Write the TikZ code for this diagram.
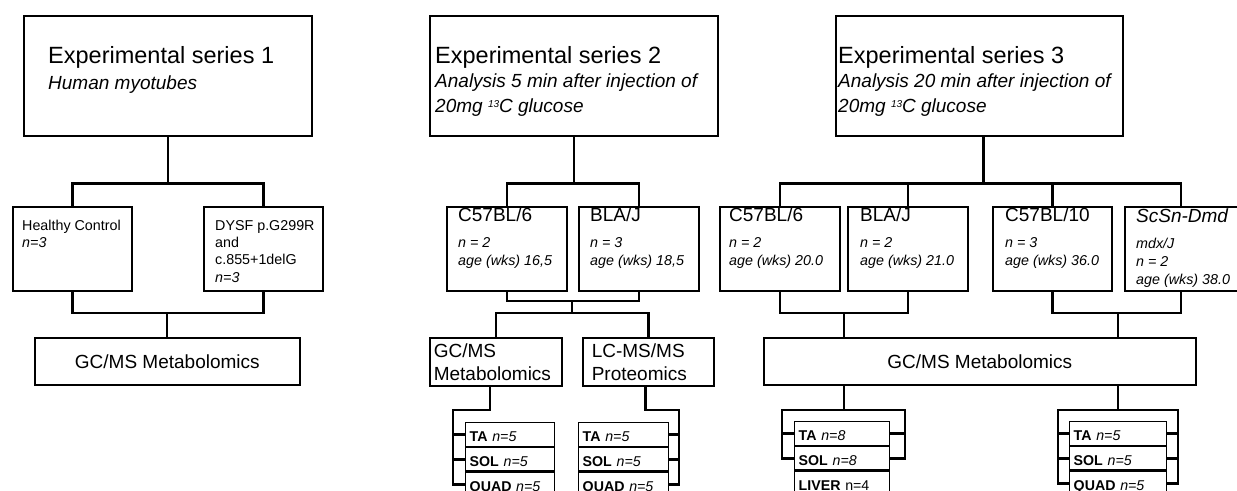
\documentclass[tikz,border=0pt]{standalone}
\usepackage{fontspec}
\setmainfont{Liberation Sans}
\usetikzlibrary{positioning}

\begin{document}
\begin{tikzpicture}[x=1pt,y=-1pt,
  box/.style={draw,line width=1.6pt,anchor=north west,inner sep=0pt},
  link/.style={line width=2.6pt},
  titletext/.style={anchor=north west,inner sep=0pt,align=left,font=\fontsize{19}{24.5}\selectfont\itshape},
  straintext/.style={anchor=north west,inner sep=0pt,align=left,font=\fontsize{14.3}{18}\selectfont\itshape},
  grouptext/.style={anchor=north west,inner sep=0pt,align=left,font=\fontsize{14.3}{17.4}\selectfont},
  method/.style={box,align=left,font=\fontsize{19}{23}\selectfont},
  tissue/.style={draw,line width=1.4pt,inner xsep=4pt,inner ysep=3pt,text height=15.5pt,text depth=2pt,
    text width=#1,align=left,font=\fontsize{14.2}{17}\selectfont}]
\useasboundingbox (0,0) rectangle (1237,490);
\clip (0,0) rectangle (1237,490);

% series 1
\node[box,minimum width=288pt,minimum height=120pt] (e1) at (23,15) {};
\node[titletext] (e1-t) at (48,46) {{\upshape\fontsize{23.5}{28}\selectfont Experimental series 1}\\[1.5pt] Human myotubes};
\node[box,minimum width=119pt,minimum height=84pt] (hc) at (12,206) {};
\node[grouptext] (hc-t) at (22,220) {Healthy Control\\ \textit{n=3}};
\node[box,minimum width=119pt,minimum height=84pt] (dy) at (203,206) {};
\node[grouptext] (dy-t) at (215,220) {DYSF p.G299R\\ and\\ c.855+1delG\\ \textit{n=3}};
\node[method,align=center,minimum width=265pt,minimum height=47pt] (gm1) at (34,337) {GC/MS Metabolomics};

\draw[link] (e1.south) -- ++(0,47) coordinate (j1);
\draw[link] (hc.north) |- (j1) -| (dy.north);
\coordinate (m1) at (167,313);
\draw[link] (hc.south) |- (m1) -| (dy.south);
\draw[link] (m1) -- (m1 |- gm1.north);

% series 2
\node[box,minimum width=288pt,minimum height=120pt] (e2) at (429,15) {};
\node[titletext] (e2-t) at (435,46) {{\upshape\fontsize{23.5}{28}\selectfont Experimental series 2}\\ Analysis 5 min after injection of\\ 20mg \raisebox{5pt}{\fontsize{10}{10}\selectfont 13}C glucose};
\node[box,minimum width=120pt,minimum height=84pt] (c2a) at (446,206) {};
\node[straintext] (c2a-t) at (458,208) {{\upshape\fontsize{19}{22}\selectfont C57BL/6}\\[8pt] n = 2\\ age (wks) 16,5};
\node[box,minimum width=120pt,minimum height=84pt] (c2b) at (578,206) {};
\node[straintext] (c2b-t) at (590,208) {{\upshape\fontsize{19}{22}\selectfont BLA/J}\\[8pt] n = 3\\ age (wks) 18,5};
\node[method,inner xsep=4pt,text width=124pt,minimum height=48pt] (gm2) at (429,337) {GC/MS\\ Metabolomics};
\node[method,inner xsep=9pt,text width=113pt,minimum height=48pt] (lc2) at (582,337) {LC-MS/MS\\ Proteomics};

\node[tissue=81pt,anchor=north west] (t2a) at (465,422) {\textbf{TA} \textit{n=5}};
\node[tissue=81pt,below=0pt of t2a] (s2a) {\textbf{SOL} \textit{n=5}};
\node[tissue=81pt,below=0pt of s2a] (q2a) {\textbf{QUAD} \textit{n=5}};
\node[tissue=82pt,anchor=north west] (t2b) at (578,422) {\textbf{TA} \textit{n=5}};
\node[tissue=82pt,below=0pt of t2b] (s2b) {\textbf{SOL} \textit{n=5}};
\node[tissue=82pt,below=0pt of s2b] (q2b) {\textbf{QUAD} \textit{n=5}};

\draw[link] (e2.south) -- ++(0,47) coordinate (j2);
\draw[link] (c2a.north) |- (j2) -| (c2b.north);
\coordinate (m2) at (572,301);
\draw[link] (c2a.south) |- (m2) -| (c2b.south);
\draw[link] (m2) -- ++(0,12) coordinate (n2);
\draw[link] (gm2.north) |- (n2) -| (lc2.north);
\coordinate (k2a) at (453,410);
\draw[link] ([xshift=-6pt]gm2.south) |- (k2a) |- (q2a.west);
\draw[link] (t2a.west) -- (t2a.west -| k2a);
\draw[link] (s2a.west) -- (s2a.west -| k2a);
\coordinate (k2b) at (679,410);
\draw[link] ([xshift=-3pt]lc2.south) |- (k2b) |- (q2b.east);
\draw[link] (t2b.east) -- (t2b.east -| k2b);
\draw[link] (s2b.east) -- (s2b.east -| k2b);

% series 3
\node[box,minimum width=287pt,minimum height=120pt] (e3) at (835,15) {};
\node[titletext] (e3-t) at (838,46) {{\upshape\fontsize{23.5}{28}\selectfont Experimental series 3}\\ Analysis 20 min after injection of\\ 20mg \raisebox{5pt}{\fontsize{10}{10}\selectfont 13}C glucose};
\node[box,minimum width=120pt,minimum height=84pt] (c3a) at (719,206) {};
\node[straintext] (c3a-t) at (729,208) {{\upshape\fontsize{19}{22}\selectfont C57BL/6}\\[8pt] n = 2\\ age (wks) 20.0};
\node[box,minimum width=120pt,minimum height=84pt] (c3b) at (847,206) {};
\node[straintext] (c3b-t) at (860,208) {{\upshape\fontsize{19}{22}\selectfont BLA/J}\\[8pt] n = 2\\ age (wks) 21.0};
\node[box,minimum width=119pt,minimum height=84pt] (c3c) at (992,206) {};
\node[straintext] (c3c-t) at (1005,208) {{\upshape\fontsize{19}{22}\selectfont C57BL/10}\\[8pt] n = 3\\ age (wks) 36.0};
\node[box,minimum width=120pt,minimum height=84pt] (c3d) at (1124,206) {};
\node[straintext] (c3d-t) at (1136,209) {{\fontsize{19}{22}\selectfont ScSn-Dmd}\\[8pt] mdx/J\\ n = 2\\ age (wks) 38.0};
\node[method,align=center,minimum width=432pt,minimum height=47pt] (gm3) at (763,337) {GC/MS Metabolomics};

\node[tissue=87pt,anchor=north west] (t3) at (794,421) {\textbf{TA} \textit{n=8}};
\node[tissue=87pt,below=0pt of t3] (s3) {\textbf{SOL} \textit{n=8}};
\node[tissue=87pt,below=0pt of s3] (l3) {\textbf{LIVER} n=4};
\node[tissue=89pt,anchor=north west] (t4) at (1069,421) {\textbf{TA} \textit{n=5}};
\node[tissue=89pt,below=0pt of t4] (s4) {\textbf{SOL} \textit{n=5}};
\node[tissue=89pt,below=0pt of s4] (q4) {\textbf{QUAD} \textit{n=5}};

\draw[link] ([xshift=4pt]e3.south) -- ++(0,47) coordinate (j3);
\draw[link] (c3a.north) |- (j3) -| ([xshift=-4pt]c3d.north);
\draw[link] (c3b.north) -- (c3b.north |- j3);
\draw[link] (c3c.north) -- (c3c.north |- j3);
\coordinate (m3a) at (844,313);
\draw[link] (c3a.south) |- (m3a) -| (c3b.south);
\draw[link] (m3a) -- (m3a |- gm3.north);
\coordinate (m3b) at (1118,313);
\draw[link] (c3c.south) |- (m3b) -| ([xshift=-4pt]c3d.south);
\draw[link] (m3b) -- (m3b |- gm3.north);
\coordinate (k3l) at (782,410);
\coordinate (k3r) at (905,410);
\draw[link] (m3a |- gm3.south) -- (m3a |- k3l);
\draw[link] (s3.west) -| (k3l) -- (k3r) |- (s3.east);
\draw[link] (t3.west) -- (t3.west -| k3l);
\draw[link] (t3.east) -- (t3.east -| k3r);
\coordinate (k4l) at (1058,410);
\coordinate (k4r) at (1178,410);
\draw[link] (m3b |- gm3.south) -- (m3b |- k4l);
\draw[link] (q4.west) -| (k4l) -- (k4r) |- (q4.east);
\draw[link] (t4.west) -- (t4.west -| k4l);
\draw[link] (s4.west) -- (s4.west -| k4l);
\draw[link] (t4.east) -- (t4.east -| k4r);
\draw[link] (s4.east) -- (s4.east -| k4r);
\end{tikzpicture}
\end{document}
